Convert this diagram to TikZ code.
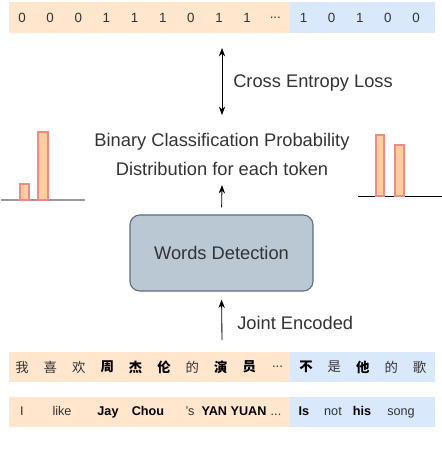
\documentclass[tikz,border=0pt]{standalone}
\usepackage{fontspec}
\setmainfont{Liberation Sans}
\newfontfamily\cjk{Noto Sans CJK SC}
\newfontfamily\capfont{Liberation Serif}
\usetikzlibrary{arrows.meta}

\definecolor{cellorange}{HTML}{FFE6CC}
\definecolor{cellblue}{HTML}{DAE8FC}
\definecolor{boxfill}{HTML}{BAC8D3}
\definecolor{boxline}{HTML}{5B7083}
\definecolor{barfill}{HTML}{FFCE9F}
\definecolor{barline}{HTML}{F08A86}
\definecolor{txt}{HTML}{333333}
\newcommand{\tokdots}{...}

\begin{document}
\begin{tikzpicture}[x=0.025cm,y=-0.025cm,
    arr/.style={-{Stealth[length=6pt,width=4.5pt]},line width=0.6pt},
    lbl/.style={font=\fontsize{13}{20.6}\selectfont,text=txt,inner sep=0pt},
    digit/.style={font=\fontsize{9.5}{11}\selectfont,text=txt,inner sep=0pt},
    word/.style={font=\fontsize{9}{11}\selectfont,text=txt,inner sep=0pt},
    hanzi/.style={font=\cjk\fontsize{9.5}{11}\selectfont,text=txt,inner sep=0pt},
    bar/.style={fill=barfill,draw=barline,line width=0.8pt}]
    \useasboundingbox (0,0) rectangle (442,462);

    % label row
    \fill[cellorange] (9,2) rectangle (290,33);
    \fill[cellblue] (290,2) rectangle (435,33);
    \foreach \v [count=\i from 0] in {0,0,0,1,1,1,0,1,1,\tokdots,1,0,1,0,0}
        \node[digit] (d\i) at ({22+28.15*\i},17.5) {\v};

    \coordinate (losstop) at (222,48);
    \coordinate (lossbot) at (222,115);
    \draw[{Stealth[length=6pt,width=4.5pt]}-{Stealth[length=6pt,width=4.5pt]},line width=0.6pt]
        (losstop) -- (lossbot);
    \node[lbl,anchor=west] (loss) at (233,83) {Cross Entropy Loss};

    % probability distribution
    \node[lbl,align=center] (probtxt) at (222,154.5)
        {Binary Classification Probability\\Distribution for each token};

    \draw[gray!80,line width=1.2pt] (1,200) -- (85,200);
    \draw[bar] (20,184) rectangle (29,200);
    \draw[bar] (38,132) rectangle (48,200);

    \draw[black,line width=0.6pt] (358,196) -- (442,196);
    \draw[bar] (376,135) rectangle (384,196);
    \draw[bar] (395,145) rectangle (404,196);

    % detector
    \node[draw=boxline,fill=boxfill,rounded corners=7pt,line width=0.8pt,
          minimum width=4.575cm,minimum height=1.9cm,lbl] (detect) at (221.5,253)
        {Words Detection};

    \coordinate (probfoot) at (222,185);
    \draw[arr,shorten <=5pt] (detect.north) -- (probfoot);

    \coordinate (jointtail) at (222,340);
    \draw[arr,shorten >=5.7pt] (jointtail) -- (detect.south);
    \node[lbl,anchor=west] (joint) at (237,323) {Joint Encoded};

    % input rows
    \fill[cellorange] (9,352) rectangle (290,382);
    \fill[cellblue] (290,352) rectangle (435,382);
    \foreach \c/\b [count=\i from 0] in {我/0,喜/0,欢/0,周/1,杰/1,伦/1,的/0,演/1,员/1,{\rmfamily\tokdots}/0,不/1,是/0,他/1,的/0,歌/0}
        \node[hanzi] (z\i) at ({22+28.4*\i},367) {\ifnum\b=1 \bfseries\color{black}\fi\c};

    \fill[cellorange] (9,397) rectangle (290,427);
    \fill[cellblue] (290,397) rectangle (435,427);
    \foreach \w/\x/\b [count=\i] in {I/22/0,like/62/0,Jay/108/1,Chou/148/1,'s/190/0,YAN YUAN/234/1,\tokdots/276/0,Is/304/1,not/333/0,his/362/1,song/401/0}
        \node[word] (e\i) at (\x,412) {\ifnum\b=1 \bfseries\color{black}\fi\strut\w};

    % caption, cut by the page edge
    \node[anchor=base west,inner sep=0pt,text=gray,font=\capfont\bfseries\fontsize{18.5}{20}\selectfont]
        (caption) at (87,486) {Figure 3: Word Detection};
\end{tikzpicture}
\end{document}
